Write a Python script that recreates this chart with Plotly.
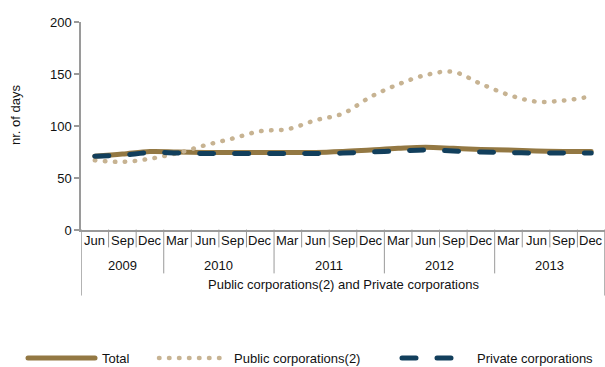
import plotly.graph_objects as go

# Quarterly observations, Jun 2009 - Dec 2013
months = ["Jun", "Sep", "Dec",
          "Mar", "Jun", "Sep", "Dec",
          "Mar", "Jun", "Sep", "Dec",
          "Mar", "Jun", "Sep", "Dec",
          "Mar", "Jun", "Sep", "Dec"]
years = ["2009", "2010", "2011", "2012", "2013"]
year_counts = [3, 4, 4, 4, 4]
group_label = "Public corporations(2) and Private corporations"

total = [71, 73, 75.5, 75, 74.5, 74.5, 74.5, 74.5, 74.5, 75.5,
         77, 78.5, 79.5, 78.5, 77.5, 77, 76, 75.5, 75.5]
public = [67, 65.5, 68.5, 74, 81.5, 88, 95, 97, 105.5, 112,
          128, 140, 149, 152, 140.5, 130, 123.5, 124.5, 128.5]
private = [71, 72, 74.5, 74, 73.5, 73.5, 73.5, 73.5, 73.5, 74,
           75, 76, 77, 76, 75, 74.5, 74, 74, 74]

series_names = ["Total", "Public corporations(2)", "Private corporations"]
series_values = [total, public, private]
colors = ["#937843", "#C7B392", "#123F5C"]
widths = [5, 4.5, 5]
# dash patterns are drawn with round caps (see post_script below)
dashes = ["solid", "0.5px,9.5px", "14px,21px"]

FONT = "Liberation Sans, Arial, sans-serif"
FS = 13
TXT = "#111111"
AXIS_GREY = "#9a9a9a"

x = list(range(len(months)))

fig = go.Figure()
for name, vals, c, w, d in zip(series_names, series_values, colors, widths, dashes):
    fig.add_trace(go.Scatter(
        x=x, y=vals, name=name, mode="lines",
        line=dict(color=c, width=w, dash=d, shape="spline", smoothing=1.0),
        showlegend=False,
    ))

# plot-area geometry in pixels (used to place decorations below the axis)
W, H = 605, 367
L, R, T, B = 81, 0, 22, 137
plot_h = H - T - B
plot_w = W - L - R


def py(pix):
    """pixel row -> paper y"""
    return (H - B - pix) / plot_h


def px(pix):
    """pixel column -> paper x"""
    return (pix - L) / plot_w


shapes = []
# boundaries between month cells
year_edges = []
acc = 0
for n in year_counts:
    acc += n
    year_edges.append(acc)
for i in range(1, len(months)):
    bottom = 273 if i in year_edges else 247
    shapes.append(dict(type="line", xref="x", yref="paper",
                       x0=i - 0.5, x1=i - 0.5, y0=0, y1=py(bottom),
                       line=dict(color=AXIS_GREY, width=1)))
# outer left / right edges of the category table
for edge in (-0.5, len(months) - 0.5):
    shapes.append(dict(type="line", xref="x", yref="paper",
                       x0=edge, x1=edge, y0=0, y1=py(295),
                       line=dict(color=AXIS_GREY, width=1.5)))

annotations = []
# month labels
for i, m in enumerate(months):
    annotations.append(dict(x=i, y=py(240), xref="x", yref="paper",
                            text=m, showarrow=False, xanchor="center", yanchor="middle",
                            font=dict(family=FONT, size=FS, color=TXT)))
# year group labels
start = 0
for yr, n in zip(years, year_counts):
    annotations.append(dict(x=start + (n - 1) / 2, y=py(265), xref="x", yref="paper",
                            text=yr, showarrow=False, xanchor="center", yanchor="middle",
                            font=dict(family=FONT, size=FS, color=TXT)))
    start += n
annotations.append(dict(x=(len(months) - 1) / 2, y=py(284), xref="x", yref="paper",
                        text=group_label, showarrow=False, xanchor="center", yanchor="middle",
                        font=dict(family=FONT, size=FS, color=TXT)))
# y-axis title
annotations.append(dict(x=px(15), y=py(115), xref="paper", yref="paper",
                        text="nr. of days", textangle=-90, showarrow=False,
                        xanchor="center", yanchor="middle",
                        font=dict(family=FONT, size=FS, color=TXT)))

# legend row
legend_swatch = [(28, 95), (159, 222), (402, 455)]
legend_text_x = [100, 232, 475]
legend_y = py(358)
for name, c, w, d, (a, b), tx in zip(series_names, colors, widths, dashes,
                                      legend_swatch, legend_text_x):
    shapes.append(dict(type="line", xref="paper", yref="paper",
                       x0=px(a), x1=px(b), y0=legend_y, y1=legend_y,
                       line=dict(color=c, width=w, dash=d)))
    annotations.append(dict(x=px(tx), y=legend_y, xref="paper", yref="paper",
                            text=name, showarrow=False, xanchor="left", yanchor="middle",
                            font=dict(family=FONT, size=FS, color=TXT)))

fig.update_layout(
    width=W, height=H,
    margin=dict(l=L, r=R, t=T, b=B, pad=0),
    paper_bgcolor="white", plot_bgcolor="white",
    font=dict(family=FONT, size=FS, color=TXT),
    shapes=shapes, annotations=annotations,
    showlegend=False,
)
fig.update_xaxes(
    range=[-0.5, len(months) - 0.5],
    showticklabels=False, ticks="", showgrid=False, zeroline=False,
    showline=True, linecolor=AXIS_GREY, linewidth=1.5,
    fixedrange=True,
)
fig.update_yaxes(
    range=[0, 200], tickmode="linear", tick0=0, dtick=50,
    ticks="outside", ticklen=5, tickcolor=AXIS_GREY, tickwidth=1.5,
    showgrid=False, zeroline=False,
    showline=True, linecolor=AXIS_GREY, linewidth=1.5,
    tickfont=dict(family=FONT, size=FS, color=TXT),
    fixedrange=True,
)

# round line caps so dotted series render as round dots and dashes get rounded ends
round_caps = """
var gd = document.getElementById('{plot_id}');
function roundCaps() {
  gd.querySelectorAll('.scatterlayer .js-line, .shapelayer path').forEach(function (p) {
    p.style.strokeLinecap = 'round';
  });
}
roundCaps();
gd.on('plotly_afterplot', roundCaps);
"""

fig.write_html("out.html", post_script=round_caps)
